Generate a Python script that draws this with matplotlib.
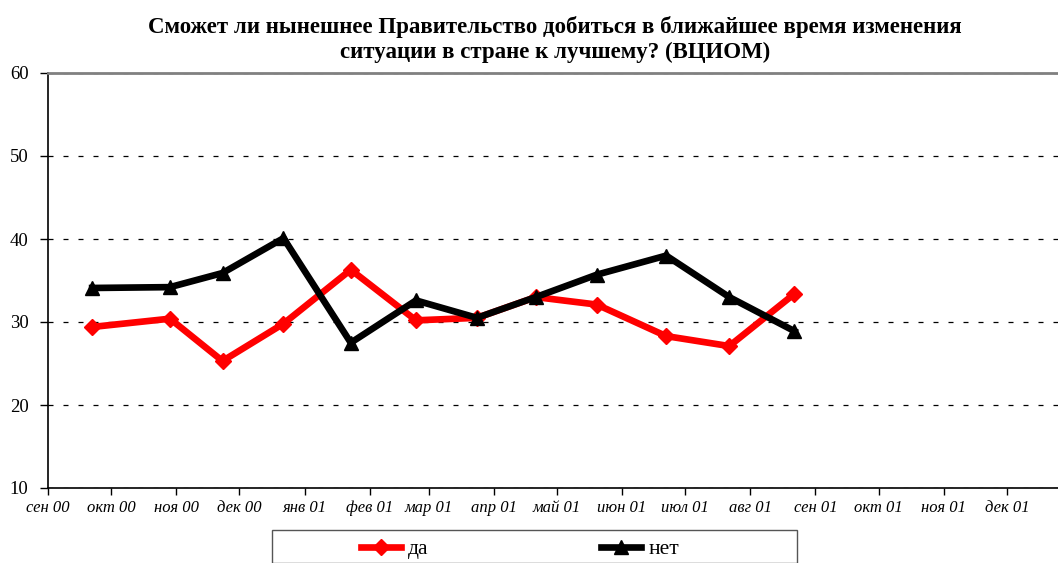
import matplotlib.pyplot as plt
import matplotlib.dates as mdates
from matplotlib.patches import Rectangle
import pandas as pd

plt.rcParams['font.family'] = ['Liberation Serif', 'DejaVu Serif']

# даты опросов ВЦИОМ
survey_dates = pd.to_datetime([
    "2000-09-22", "2000-10-29", "2000-11-23", "2000-12-22",
    "2001-01-23", "2001-02-23", "2001-03-24", "2001-04-21",
    "2001-05-20", "2001-06-22", "2001-07-22", "2001-08-22",
])
da = [29.4, 30.4, 25.3, 29.8, 36.3, 30.2, 30.5, 33.0, 32.1, 28.3, 27.1, 33.4]
net = [34.1, 34.2, 35.9, 40.1, 27.5, 32.6, 30.5, 33.0, 35.7, 38.0, 33.0, 28.9]

month_ticks = pd.date_range("2000-09-01", "2001-12-01", freq="MS")
month_labels = [
    "сен 00", "окт 00", "ноя 00", "дек 00", "янв 01", "фев 01", "мар 01", "апр 01",
    "май 01", "июн 01", "июл 01", "авг 01", "сен 01", "окт 01", "ноя 01", "дек 01",
]
y_ticks = [10, 20, 30, 40, 50, 60]

W, H = 1058, 563
fig = plt.figure(figsize=(W / 100, H / 100), dpi=100)
# правый край осей уходит за пределы картинки (как в исходнике)
ax = fig.add_axes([48 / W, 1 - 488 / H, 1024 / W, 415 / H])

ax.plot(survey_dates, da, color="#ff0000", linewidth=4.8, marker="D",
        markersize=8.5, label="да", zorder=3, solid_joinstyle="round")
ax.plot(survey_dates, net, color="black", linewidth=4.8, marker="^",
        markersize=10, label="нет", zorder=4, solid_joinstyle="round")

ax.set_xlim(pd.Timestamp("2000-09-01"), pd.Timestamp("2002-01-01"))
ax.set_ylim(10, 60)
ax.set_xticks(month_ticks)
ax.set_xticklabels(month_labels, fontsize=12, style="italic")
ax.set_yticks(y_ticks)
ax.set_yticklabels([str(v) for v in y_ticks], fontsize=13.5)
ax.tick_params(axis="x", direction="out", length=5, width=1, pad=4)
ax.tick_params(axis="y", direction="out", length=6, width=1, pad=8)

# пунктирная сетка только по Y
ax.yaxis.grid(True, color="black", linestyle=(0, (4, 8)), linewidth=0.9)
ax.set_axisbelow(True)

for side in ["left", "bottom"]:
    ax.spines[side].set_color("black")
    ax.spines[side].set_linewidth(1.2)
ax.spines["top"].set_color("#808080")
ax.spines["top"].set_linewidth(2)
ax.spines["right"].set_visible(False)

fig.text(555 / W, 1 - 39.5 / H,
         "Сможет ли нынешнее Правительство добиться в ближайшее время изменения\n"
         "ситуации в стране к лучшему? (ВЦИОМ)",
         ha="center", va="center", fontsize=16.5, fontweight="bold", linespacing=1.22)

# рамка легенды (обрезана снизу)
fig.patches.append(Rectangle((272 / W, 0), 525 / W, 33 / H, transform=fig.transFigure,
                             fill=False, edgecolor="#555555", linewidth=1))
handles, labels = ax.get_legend_handles_labels()
leg = fig.legend(handles, labels, loc="center left", bbox_to_anchor=(361 / W, 1 - 549 / H),
                 ncol=2, frameon=False, fontsize=15.5, handlelength=1.85, handletextpad=0.35,
                 columnspacing=8.0, borderpad=0, borderaxespad=0)

fig.savefig("out.png", dpi=100)
